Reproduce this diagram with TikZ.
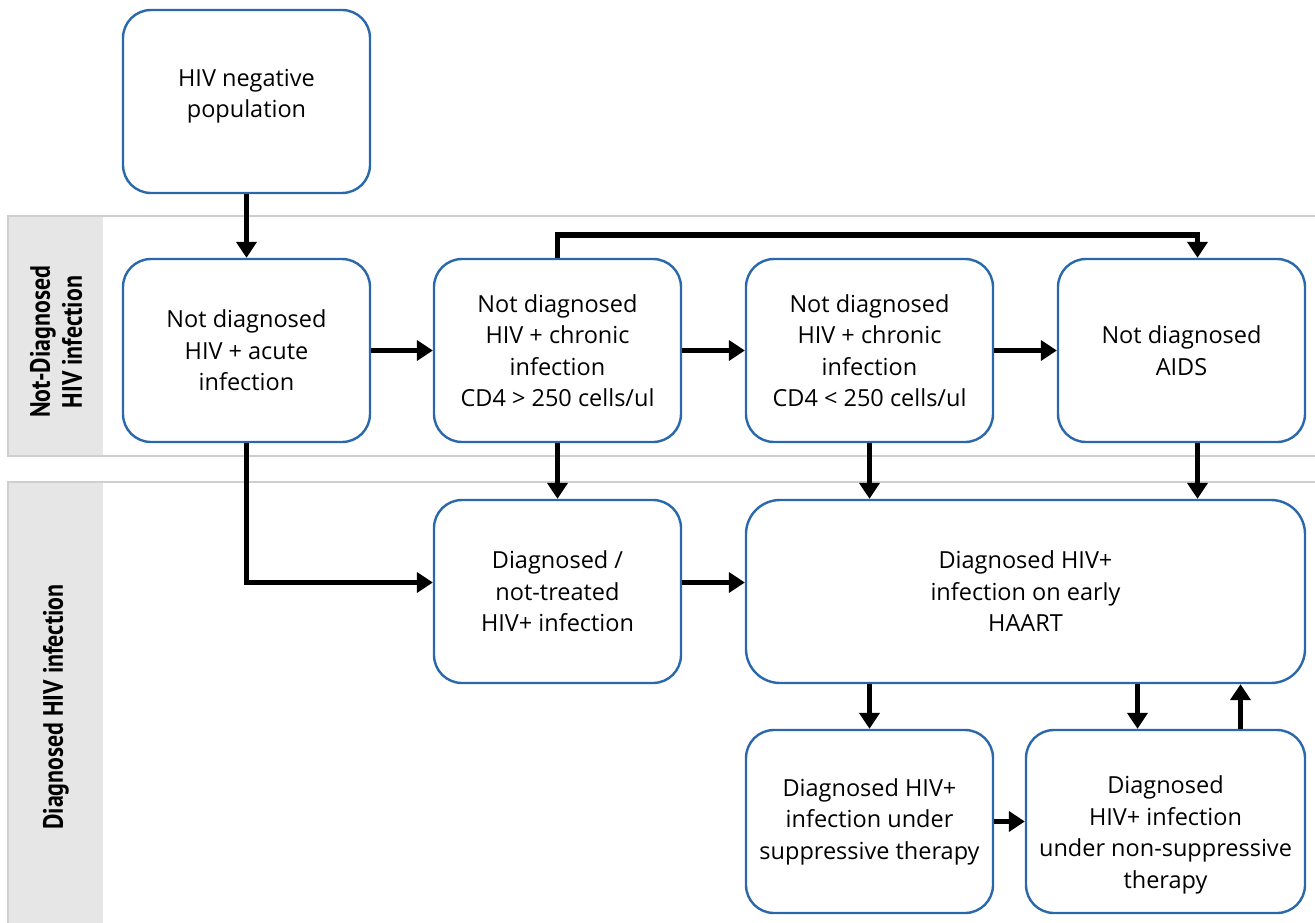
\documentclass[tikz,border=0pt]{standalone}
\usepackage{fontspec}
\setmainfont{Open Sans}
\newfontfamily\bandfont{PT Sans}[FakeStretch=0.85]
\usetikzlibrary{arrows.meta}
\definecolor{boxblue}{HTML}{2A68AC}
\definecolor{bandline}{HTML}{CFCFCF}
\definecolor{bandfill}{HTML}{E6E6E6}
\tikzset{
  statebox/.style={draw=boxblue, line width=2.4pt, rounded corners=28pt, fill=white,
    minimum width=247pt, minimum height=183pt, align=center, inner sep=4pt,
    font=\fontsize{23.5}{31.5}\selectfont},
  arr/.style={line width=5.5pt, -{Triangle[length=16pt,width=20pt]}},
  bandlabel/.style={rotate=90, align=center, font=\bandfont\bfseries\fontsize{28}{32}\selectfont}
}
\begin{document}
\begin{tikzpicture}[x=1pt,y=-1pt]
\useasboundingbox (0,0) rectangle (1315,923);
% bands
\draw[bandline, line width=2pt, fill=white] (8,216) rectangle (1340,456);
\fill[bandfill] (9,217) rectangle (103,455);
\draw[bandline, line width=2pt, fill=white] (8,482) rectangle (1340,960);
\fill[bandfill] (9,483) rectangle (103,959);
\node[bandlabel] (lab1) at (56,342) {Not-Diagnosed\\HIV infection};
\node[bandlabel] (lab2) at (56,707) {Diagnosed HIV infection};
% boxes
\node[statebox] (neg) at (246.5,101.5) {\raisebox{6pt}[\height][\depth]{\begin{tabular}{@{}c@{}}HIV negative\\population\end{tabular}}};
\node[statebox] (acute) at (246.5,350.5) {Not diagnosed\\HIV + acute\\infection};
\node[statebox] (c1) at (557.5,350.5) {Not diagnosed\\HIV + chronic\\infection\\CD4 > 250 cells/ul};
\node[statebox] (c2) at (869.5,350.5) {Not diagnosed\\HIV + chronic\\infection\\CD4 < 250 cells/ul};
\node[statebox] (aids) at (1181.5,350.5) {Not diagnosed\\AIDS};
\node[statebox] (dnt) at (557.5,591.5) {Diagnosed /\\not-treated\\HIV+ infection};
\node[statebox, minimum width=559pt, rounded corners=34pt] (haart) at (1025.5,591.5) {Diagnosed HIV+\\infection on early\\HAART};
\node[statebox] (sup) at (869.5,821.5) {Diagnosed HIV+\\infection under\\suppressive therapy};
\node[statebox, minimum width=279pt] (nsup) at (1165.5,821.5) {\raisebox{-13pt}[\height][\depth]{\begin{tabular}{@{}c@{}}Diagnosed\\HIV+ infection\\under non-suppressive\\therapy\end{tabular}}};
% connectors
\draw[arr] (neg) -- (acute);
\draw[arr] (acute.east) -- (c1.west);
\draw[arr] (c1.east) -- (c2.west);
\draw[arr] (c2.east) -- (aids.west);
\draw[arr] (c1.north) -- ++(0,-23) -| ([xshift=16pt]aids.north);
\draw[arr] (acute.south) |- ([yshift=9pt]dnt.west);
\draw[arr] (c1.south) -- (dnt.north);
\draw[arr] (c2.south) -- (c2.south |- haart.north);
\draw[arr] ([xshift=16pt]aids.south) -- ([xshift=16pt]aids.south |- haart.north);
\draw[arr] ([yshift=9pt]dnt.east) -- ([yshift=9pt]haart.west);
\draw[arr] (sup.north |- haart.south) -- (sup.north);
\draw[arr] ([xshift=-28pt]nsup.north |- haart.south) -- ([xshift=-28pt]nsup.north);
\draw[arr] ([xshift=75pt]nsup.north) -- ([xshift=75pt]nsup.north |- haart.south);
\draw[arr] (sup.east) -- (nsup.west);
\end{tikzpicture}
\end{document}
